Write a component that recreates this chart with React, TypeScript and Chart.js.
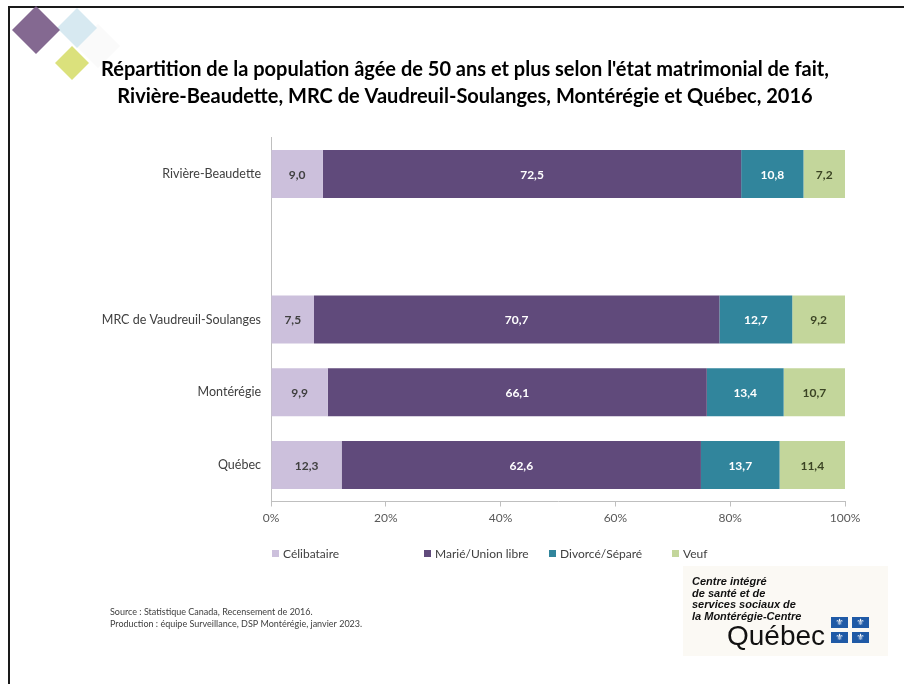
import React, { useEffect, useRef } from 'react';
import { Chart, registerables } from 'chart.js';

Chart.register(...registerables);

const categories = ['Rivière-Beaudette', '', 'MRC de Vaudreuil-Soulanges', 'Montérégie', 'Québec'];
const seriesNames = ['Célibataire', 'Marié/Union libre', 'Divorcé/Séparé', 'Veuf'];
const celibataire = [9.0, null, 7.5, 9.9, 12.3];
const marie = [72.5, null, 70.7, 66.1, 62.6];
const divorce = [10.8, null, 12.7, 13.4, 13.7];
const veuf = [7.2, null, 9.2, 10.7, 11.4];
const xTickValues = [0, 20, 40, 60, 80, 100];
const titleLines = [
  "Répartition de la population âgée de 50 ans et plus selon l'état matrimonial de fait,",
  'Rivière-Beaudette, MRC de Vaudreuil-Soulanges, Montérégie et Québec, 2016',
];
const sourceLines = [
  'Source : Statistique Canada, Recensement de 2016.',
  'Production : équipe Surveillance, DSP Montérégie, janvier 2023.',
];
const logoLines = ['Centre intégré', 'de santé et de', 'services sociaux de', 'la Montérégie-Centre'];

const seriesValues = [celibataire, marie, divorce, veuf];
const seriesColors = ['#ccc0dc', '#604a7b', '#31859c', '#c3d69b'];
const labelColors = ['#404040', '#ffffff', '#ffffff', '#3b4424'];
const legendX = [272, 424, 549, 672];

const FONT = 'Lato, "Open Sans", sans-serif';

const totals = categories.map((_, i) =>
  seriesValues.reduce((s, arr) => s + (arr[i] ?? 0), 0)
);

function diamond(ctx: CanvasRenderingContext2D, cx: number, cy: number, r: number, color: string) {
  ctx.beginPath();
  ctx.moveTo(cx, cy - r);
  ctx.lineTo(cx + r, cy);
  ctx.lineTo(cx, cy + r);
  ctx.lineTo(cx - r, cy);
  ctx.closePath();
  ctx.fillStyle = color;
  ctx.fill();
}

const decorPlugin = {
  id: 'decor',
  beforeDraw(chart: any) {
    const ctx: CanvasRenderingContext2D = chart.ctx;
    ctx.save();
    ctx.fillStyle = '#ffffff';
    ctx.fillRect(0, 0, chart.width, chart.height);
    // frame
    ctx.fillStyle = '#1a1a1a';
    ctx.fillRect(8, 6, chart.width - 8, 2);
    ctx.fillRect(8, 6, 2, chart.height - 6);
    // diamonds
    diamond(ctx, 98, 46, 22, 'rgba(250,250,250,1)');
    diamond(ctx, 77, 28, 20, 'rgba(208,229,238,0.85)');
    diamond(ctx, 36, 30, 24, 'rgba(122,92,136,0.92)');
    diamond(ctx, 72, 63, 17, 'rgba(215,222,110,0.9)');
    // source
    ctx.fillStyle = '#404040';
    ctx.font = `9px ${FONT}`;
    ctx.textBaseline = 'middle';
    ctx.textAlign = 'left';
    sourceLines.forEach((t, i) => ctx.fillText(t, 110, 612 + i * 12));
    // logo
    ctx.fillStyle = '#fbf9f4';
    ctx.fillRect(683, 566, 205, 90);
    ctx.fillStyle = '#111111';
    ctx.font = `bold italic 11px "Liberation Sans", Arial, sans-serif`;
    logoLines.forEach((t, i) => ctx.fillText(t, 692, 582 + i * 11.7));
    ctx.font = `28px "Liberation Sans", Arial, sans-serif`;
    ctx.textBaseline = 'alphabetic';
    ctx.fillText('Québec', 727, 645);
    const sq = [[831, 617], [852, 617], [831, 632], [852, 632]];
    sq.forEach(([x, y]) => {
      ctx.fillStyle = '#1f5aa6';
      ctx.fillRect(x, y, 17, 11);
      ctx.fillStyle = '#ffffff';
      ctx.font = `9px "DejaVu Sans", sans-serif`;
      ctx.textAlign = 'center';
      ctx.textBaseline = 'middle';
      ctx.fillText('⚜', x + 8.5, y + 6);
    });
    ctx.restore();
  },
};

const dataLabelPlugin = {
  id: 'dataLabels',
  afterDatasetsDraw(chart: any) {
    const ctx: CanvasRenderingContext2D = chart.ctx;
    ctx.save();
    ctx.font = `bold 12px ${FONT}`;
    ctx.textAlign = 'center';
    ctx.textBaseline = 'middle';
    chart.data.datasets.forEach((ds: any, di: number) => {
      const meta = chart.getDatasetMeta(di);
      meta.data.forEach((el: any, i: number) => {
        const raw = ds.rawValues[i];
        if (raw == null) return;
        const { x, base, y } = el.getProps(['x', 'base', 'y'], true);
        ctx.fillStyle = labelColors[di];
        ctx.fillText(raw.toFixed(1).replace('.', ','), (x + base) / 2, y + 1);
      });
    });
    ctx.restore();
  },
};

const legendPlugin = {
  id: 'customLegend',
  afterDraw(chart: any) {
    const ctx: CanvasRenderingContext2D = chart.ctx;
    ctx.save();
    ctx.font = `12px ${FONT}`;
    ctx.textBaseline = 'middle';
    ctx.textAlign = 'left';
    chart.data.datasets.forEach((ds: any, di: number) => {
      const x = legendX[di];
      const y = 554;
      ctx.fillStyle = ds.backgroundColor;
      ctx.fillRect(x, y - 4, 7, 7);
      ctx.fillStyle = '#404040';
      ctx.fillText(ds.label, x + 11, y);
    });
    ctx.restore();
  },
};

export default function App() {
  const ref = useRef<HTMLCanvasElement | null>(null);
  useEffect(() => {
    if (!ref.current) return;
    const chart = new Chart(ref.current, {
      type: 'bar',
      data: {
        labels: categories,
        datasets: seriesNames.map((name, si) => ({
          label: name,
          data: seriesValues[si].map((v, i) => (v == null ? null : (v / totals[i]) * 100)),
          rawValues: seriesValues[si],
          backgroundColor: seriesColors[si],
          borderWidth: 0,
          barPercentage: 0.66,
          categoryPercentage: 1,
        })) as any,
      },
      options: {
        indexAxis: 'y',
        animation: false,
        responsive: false,
        devicePixelRatio: 1,
        layout: { padding: { left: 85, right: 59, top: 0, bottom: 152.5 } },
        plugins: {
          legend: { display: false },
          tooltip: { enabled: false },
          title: {
            display: true,
            text: titleLines,
            color: '#000000',
            font: { family: FONT, size: 20, weight: 'bold', lineHeight: '27px' },
            padding: { top: 56.5, bottom: 27 },
          },
        },
        scales: {
          x: {
            type: 'linear',
            stacked: true,
            min: 0,
            max: 100,
            afterBuildTicks: (scale: any) => {
              scale.ticks = xTickValues.map((v) => ({ value: v }));
            },
            afterFit: (scale: any) => {
              scale.height = 30;
            },
            ticks: {
              color: '#595959',
              font: { family: FONT, size: 12 },
              padding: 4,
              callback: (v: any) => `${v}%`,
            },
            grid: {
              drawOnChartArea: false,
              drawTicks: true,
              tickLength: 5,
              color: '#bfbfbf',
            },
            border: { display: true, color: '#bfbfbf', width: 1 },
          },
          y: {
            type: 'category',
            stacked: true,
            afterFit: (scale: any) => {
              scale.width = 186;
            },
            ticks: {
              color: '#404040',
              font: { family: FONT, size: 12.5 },
              padding: 10,
            },
            grid: { display: false, drawTicks: false },
            border: { display: true, color: '#bfbfbf', width: 1 },
          },
        },
      } as any,
      plugins: [decorPlugin, dataLabelPlugin, legendPlugin],
    });
    return () => chart.destroy();
  }, []);
  return (
    <div style={{ position: 'absolute', left: 0, top: 0, width: 904, height: 684 }}>
      <canvas ref={ref} width={904} height={684} />
    </div>
  );
}
